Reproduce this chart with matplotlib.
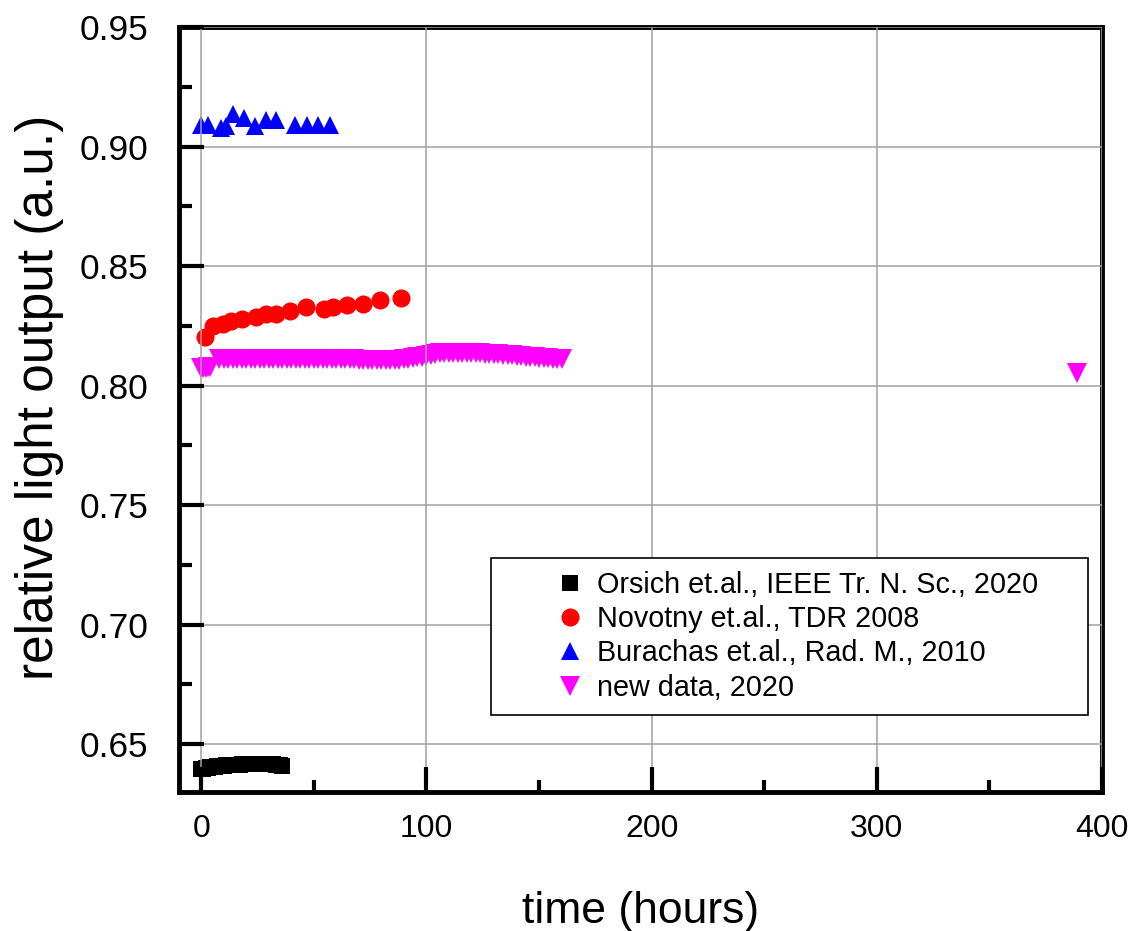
import matplotlib
matplotlib.use("Agg")
import matplotlib.pyplot as plt
from matplotlib.ticker import MultipleLocator

plt.rcParams['font.family'] = ['Liberation Sans', 'DejaVu Sans']

# Orsich et.al. -- long irradiation, first ~36 h
orsich_t = [0, 1, 2, 3, 4, 5, 6, 7, 8, 9, 10, 11, 12, 13, 14, 15, 16, 17, 18,
            19, 20, 21, 22, 23, 24, 25, 26, 27, 28, 29, 30, 31, 32, 33, 34, 35, 36]
orsich_y = [0.6396, 0.6398, 0.6399, 0.6402, 0.6403, 0.6404, 0.6406, 0.6407,
            0.6408, 0.6409, 0.6410, 0.6411, 0.6412, 0.6413, 0.6413, 0.6414,
            0.6415, 0.6415, 0.6416, 0.6416, 0.6417, 0.6417, 0.6417, 0.6418,
            0.6418, 0.6418, 0.6418, 0.6418, 0.6418, 0.6418, 0.6417, 0.6417,
            0.6416, 0.6415, 0.6413, 0.6411, 0.6409]

# Novotny et.al., TDR 2008
novotny_t = [1.8, 5.2, 9.6, 13.3, 18.2, 24.4, 28.8, 33.3, 39.2, 46.6, 54.4,
             58.4, 64.6, 71.7, 79.4, 88.7]
novotny_y = [0.8204, 0.8248, 0.8258, 0.8269, 0.8279, 0.8286, 0.8301, 0.8300,
             0.8314, 0.8327, 0.8321, 0.8329, 0.8336, 0.8343, 0.8357, 0.8367]

# Burachas et.al., Rad. M. 2010
burachas_t = [0, 3.2, 8.6, 11, 14.3, 19.2, 23.7, 28.8, 33.3, 41.7, 47, 52, 57.2]
burachas_y = [0.9091, 0.9091, 0.9079, 0.9086, 0.9134, 0.9118, 0.9084, 0.9109,
              0.9109, 0.9092, 0.9092, 0.9092, 0.9092]

# new data 2020
new_t = [0, 1, 2, 3, 4, 8, 10, 12, 14, 16, 18, 20, 22, 24, 26, 28, 30, 32, 34,
         36, 38, 40, 42, 44, 46, 48, 50, 52, 54, 56, 58, 60, 62, 64, 66, 68,
         70, 72, 74, 76, 78, 80, 82, 84, 86, 88, 90, 92, 94, 96, 98, 100, 102,
         104, 106, 108, 110, 112, 114, 116, 118, 120, 122, 124, 126, 128, 130,
         132, 134, 136, 138, 140, 142, 144, 146, 148, 150, 152, 154, 156, 158,
         160, 389]
new_y = [0.8074, 0.8075, 0.8075, 0.8076, 0.8077, 0.8113, 0.8113, 0.8112,
         0.8112, 0.8112, 0.8111, 0.8111, 0.8112, 0.8111, 0.8111, 0.8110,
         0.8111, 0.8111, 0.8110, 0.8110, 0.8111, 0.8110, 0.8110, 0.8111,
         0.8110, 0.8110, 0.8110, 0.8111, 0.8110, 0.8110, 0.8111, 0.8110,
         0.8110, 0.8110, 0.8111, 0.8110, 0.8109, 0.8109, 0.8108, 0.8107,
         0.8106, 0.8106, 0.8106, 0.8107, 0.8108, 0.8109, 0.8111, 0.8113,
         0.8115, 0.8118, 0.8121, 0.8125, 0.8129, 0.8133, 0.8136, 0.8137,
         0.8138, 0.8138, 0.8138, 0.8138, 0.8137, 0.8136, 0.8135, 0.8135,
         0.8134, 0.8133, 0.8133, 0.8132, 0.8130, 0.8129, 0.8127, 0.8125,
         0.8123, 0.8121, 0.8119, 0.8118, 0.8117, 0.8115, 0.8114, 0.8113,
         0.8112, 0.8112, 0.8051]

labels = ["Orsich et.al., IEEE Tr. N. Sc., 2020",
          "Novotny et.al., TDR 2008",
          "Burachas et.al., Rad. M., 2010",
          "new data, 2020"]

fig = plt.figure(figsize=(11.34, 9.31), dpi=100)
ax = fig.add_axes([0.1576, 0.1493, 0.8142, 0.8217])

ax.plot(orsich_t, orsich_y, 's', color='black', ms=11.5, mew=0, label=labels[0])
ax.plot(novotny_t, novotny_y, 'o', color='red', ms=13, mew=0, label=labels[1])
ax.plot(burachas_t, burachas_y, '^', color='blue', ms=13.5, mew=0, label=labels[2])
ax.plot(new_t, new_y, 'v', color='magenta', ms=15, mew=0, label=labels[3])

ax.set_xlim(-10, 400)
ax.set_ylim(0.63, 0.95)
ax.xaxis.set_major_locator(MultipleLocator(100))
ax.xaxis.set_minor_locator(MultipleLocator(50))
ax.yaxis.set_major_locator(MultipleLocator(0.05))
ax.yaxis.set_minor_locator(MultipleLocator(0.025))
ax.yaxis.set_major_formatter(plt.FormatStrFormatter('%.2f'))

ax.set_axisbelow(False)
ax.grid(True, which='major', color='#a0a0a0', lw=1.1)

ax.tick_params(which='both', direction='in', width=3, color='black',
               top=False, right=False)
ax.tick_params(which='major', length=18)
ax.tick_params(which='minor', length=9)
ax.tick_params(axis='y', pad=22, labelsize=25.5)
ax.tick_params(axis='x', pad=16, labelsize=23)

for s in ax.spines.values():
    s.set_linewidth(3.5)

ax.set_xlabel('time (hours)', fontsize=32, labelpad=34)
ax.set_ylabel('relative light output (a.u.)', fontsize=37)
ax.yaxis.set_label_coords(-0.124, 0.516)

leg = ax.legend(loc='upper left', bbox_to_anchor=(0.338, 0.105, 0.647, 0.201),
                mode='expand', borderaxespad=0, fontsize=20.7, numpoints=1,
                handlelength=4.6, handletextpad=-1.35, borderpad=0.45,
                labelspacing=0.22, fancybox=False, framealpha=1)
leg.get_frame().set_edgecolor('black')
leg.get_frame().set_linewidth(1.2)

fig.savefig('out.png', dpi=100)
